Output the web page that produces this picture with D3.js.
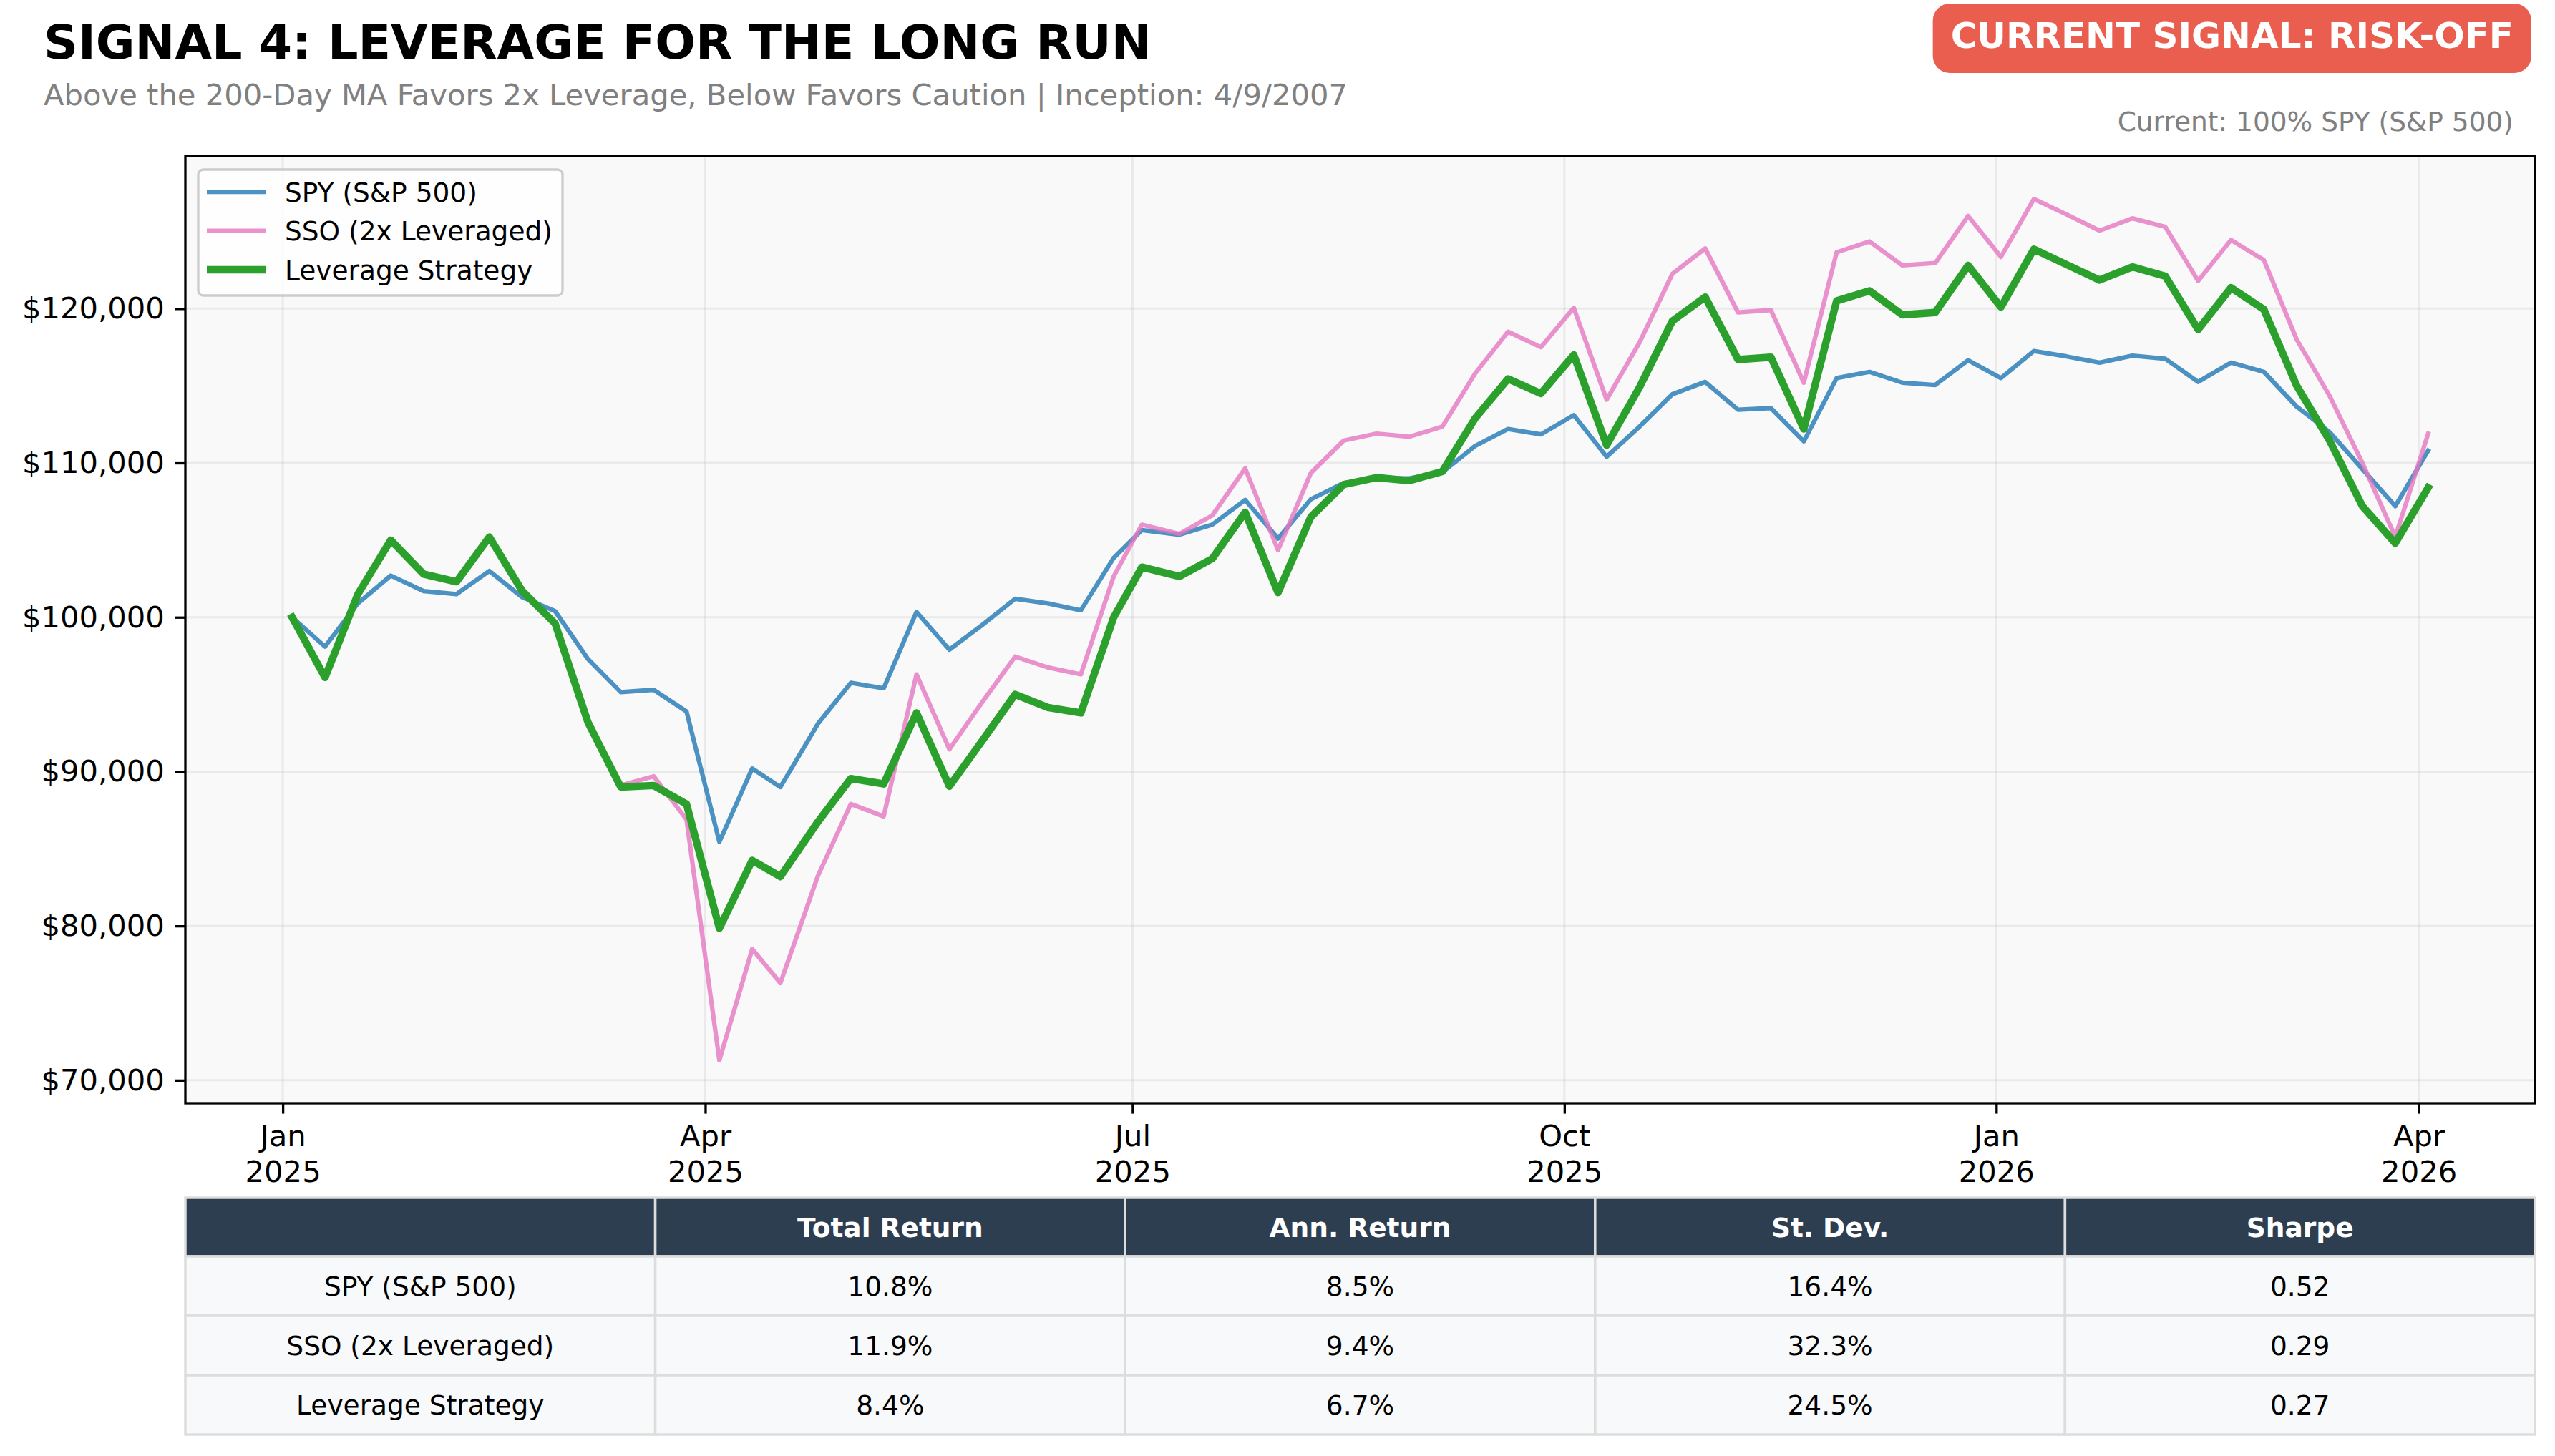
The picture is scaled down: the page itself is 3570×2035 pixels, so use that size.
<!DOCTYPE html>
<html>
<head>
<meta charset="utf-8">
<script src="https://cdn.jsdelivr.net/npm/d3@7"></script>
<style>
    body { margin: 0; background: #ffffff; }
    svg { display: block; font-family: "DejaVu Sans", sans-serif; }
</style>
</head>
<body>
<div id="canvas"></div>
<script>
"use strict"

/* Weekly closes, growth of $100,000 */
let weekDates = [
    "2025-01-03", "2025-01-10", "2025-01-17", "2025-01-24", "2025-01-31", "2025-02-07",
    "2025-02-14", "2025-02-21", "2025-02-28", "2025-03-07", "2025-03-14", "2025-03-21",
    "2025-03-28", "2025-04-04", "2025-04-11", "2025-04-17", "2025-04-25", "2025-05-02",
    "2025-05-09", "2025-05-16", "2025-05-23", "2025-05-30", "2025-06-06", "2025-06-13",
    "2025-06-20", "2025-06-27", "2025-07-03", "2025-07-11", "2025-07-18", "2025-07-25",
    "2025-08-01", "2025-08-08", "2025-08-15", "2025-08-22", "2025-08-29", "2025-09-05",
    "2025-09-12", "2025-09-19", "2025-09-26", "2025-10-03", "2025-10-10", "2025-10-17",
    "2025-10-24", "2025-10-31", "2025-11-07", "2025-11-14", "2025-11-21", "2025-11-28",
    "2025-12-05", "2025-12-12", "2025-12-19", "2025-12-26", "2026-01-02", "2026-01-09",
    "2026-01-16", "2026-01-23", "2026-01-30", "2026-02-06", "2026-02-13", "2026-02-20",
    "2026-02-27", "2026-03-06", "2026-03-13", "2026-03-20", "2026-03-27", "2026-04-03"
];

let spyValues = [
    100000, 98100, 100900, 102700, 101700, 101500, 103000, 101300, 100400, 97300,
    95150, 95300, 93900, 85450, 90200, 89000, 93100, 95750, 95400, 100350,
    97900, 99500, 101200, 100900, 100450, 103850, 105650, 105350, 106000, 107600,
    105100, 107650, 108700, 109000, 109000, 109400, 111100, 112200, 111850, 113100,
    110400, 112350, 114450, 115250, 113450, 113550, 111400, 115500, 115900, 115200,
    115050, 116650, 115500, 117250, 116900, 116500, 116950, 116750, 115250, 116500,
    115900, 113650, 112000, 109600, 107200, 110800
];

let ssoValues = [
    100000, 96100, 101500, 105000, 102800, 102300, 105200, 101700, 99600, 93200,
    89100, 89700, 86900, 71300, 78500, 76300, 83250, 87900, 87100, 96300,
    91450, 94500, 97450, 96750, 96300, 102650, 106000, 105400, 106600, 109650,
    104350, 109350, 111450, 111900, 111700, 112350, 115800, 118500, 117500, 120050,
    114100, 117800, 122250, 123900, 119750, 119900, 115200, 123650, 124350, 122800,
    122950, 126000, 123350, 127100, 126100, 125050, 125850, 125300, 121800, 124450,
    123150, 118000, 114350, 110000, 105200, 111900
];

let strategyValues = [
    100000, 96100, 101500, 105000, 102800, 102300, 105200, 101700, 99600, 93200,
    89000, 89100, 87900, 79850, 84250, 83200, 86750, 89550, 89200, 93800,
    89050, 92000, 95000, 94150, 93800, 100000, 103250, 102650, 103800, 106800,
    101600, 106500, 108600, 109050, 108850, 109450, 112900, 115450, 114500, 117000,
    111150, 114900, 119200, 120750, 116700, 116850, 112200, 120500, 121150, 119600,
    119750, 122800, 120100, 123850, 122850, 121850, 122700, 122100, 118650, 121350,
    119950, 115000, 111450, 107200, 104800, 108400
];

let seriesNames = ["SPY (S&P 500)", "SSO (2x Leveraged)", "Leverage Strategy"];
let yTickValues = [70000, 80000, 90000, 100000, 110000, 120000];

/* Summary table */
let tableColumns = ["", "Total Return", "Ann. Return", "St. Dev.", "Sharpe"];
let totalReturns = ["10.8%", "11.9%", "8.4%"];
let annReturns = ["8.5%", "9.4%", "6.7%"];
let stDevs = ["16.4%", "32.3%", "24.5%"];
let sharpes = ["0.52", "0.29", "0.27"];

let titleText = "SIGNAL 4: LEVERAGE FOR THE LONG RUN";
let subtitleText = "Above the 200-Day MA Favors 2x Leverage, Below Favors Caution | Inception: 4/9/2007";
let signalText = "CURRENT SIGNAL: RISK-OFF";
let currentText = "Current: 100% SPY (S&P 500)";

/* set up the drawing canvas */
let width = 3570;
let height = 2035;

let drawing = d3.select("#canvas")
    .append("svg")
    .attr("width", width)
    .attr("height", height);

let plotLeft = 259;
let plotRight = 3542;
let plotTop = 218;
let plotBottom = 1542;

let dates = weekDates.map(d3.timeParse("%Y-%m-%d"));

// matplotlib style 5% margins on both axes
let t0 = dates[0].getTime();
let t1 = dates[dates.length - 1].getTime();
let tPad = (t1 - t0) * 0.05;
let allValues = spyValues.concat(ssoValues, strategyValues);
let vMin = d3.min(allValues);
let vMax = d3.max(allValues);
let vPad = (vMax - vMin) * 0.05;

let x = d3.scaleTime()
    .domain([new Date(t0 - tPad), new Date(t1 + tPad)])
    .range([plotLeft, plotRight]);

let y = d3.scaleLinear()
    .domain([vMin - vPad, vMax + vPad])
    .range([plotBottom, plotTop]);

let xTicks = x.ticks(d3.timeMonth.every(3));

/* plot background */
drawing.append("rect")
    .attr("x", plotLeft)
    .attr("y", plotTop)
    .attr("width", plotRight - plotLeft)
    .attr("height", plotBottom - plotTop)
    .attr("fill", "#f9f9f9");

/* grid */
let grid = drawing.append("g");
grid.selectAll(".hgrid")
    .data(yTickValues)
    .enter()
    .append("line")
    .attr("x1", plotLeft)
    .attr("x2", plotRight)
    .attr("y1", d => y(d))
    .attr("y2", d => y(d))
    .attr("stroke", "#b0b0b0")
    .attr("stroke-opacity", 0.2)
    .attr("stroke-width", 3);

grid.selectAll(".vgrid")
    .data(xTicks)
    .enter()
    .append("line")
    .attr("x1", d => x(d))
    .attr("x2", d => x(d))
    .attr("y1", plotTop)
    .attr("y2", plotBottom)
    .attr("stroke", "#b0b0b0")
    .attr("stroke-opacity", 0.2)
    .attr("stroke-width", 3);

/* lines - SPY first, strategy drawn on top */
let seriesValues = [spyValues, ssoValues, strategyValues];
let seriesColors = ["#1f77b4", "#e377c2", "#2ca02c"];
let seriesOpacity = [0.8, 0.8, 1];
let seriesWidths = [6.25, 6.25, 10.4];

let line = d3.line()
    .x((d, i) => x(dates[i]))
    .y(d => y(d));

let lineLayer = drawing.append("g");
seriesValues.forEach(function (vals, k) {
    lineLayer.append("path")
        .attr("d", line(vals))
        .attr("fill", "none")
        .attr("stroke", seriesColors[k])
        .attr("stroke-opacity", seriesOpacity[k])
        .attr("stroke-width", seriesWidths[k])
        .attr("stroke-linejoin", "round")
        .attr("stroke-linecap", "square");
});

/* frame */
drawing.append("rect")
    .attr("x", plotLeft)
    .attr("y", plotTop)
    .attr("width", plotRight - plotLeft)
    .attr("height", plotBottom - plotTop)
    .attr("fill", "none")
    .attr("stroke", "#000000")
    .attr("stroke-width", 3.3);

/* axes */
let yAxis = drawing.append("g")
    .attr("transform", "translate(" + plotLeft + ",0)")
    .call(d3.axisLeft(y)
        .tickValues(yTickValues)
        .tickFormat(d => "$" + d3.format(",")(d))
        .tickSize(14.6)
        .tickPadding(14.6));

let xAxis = drawing.append("g")
    .attr("transform", "translate(0," + plotBottom + ")")
    .call(d3.axisBottom(x)
        .tickValues(xTicks)
        .tickFormat("")
        .tickSize(14.6));

drawing.selectAll(".domain").remove();
drawing.selectAll(".tick line")
    .attr("stroke", "#000000")
    .attr("stroke-width", 3.3);
yAxis.selectAll("text")
    .attr("font-size", 41.7)
    .attr("fill", "#000000")
    .attr("font-family", "DejaVu Sans");

let monthFmt = d3.timeFormat("%b");
let yearFmt = d3.timeFormat("%Y");
xAxis.selectAll(".tick").each(function (d) {
    let label = d3.select(this).append("text")
        .attr("text-anchor", "middle")
        .attr("font-size", 41.7)
        .attr("font-family", "DejaVu Sans")
        .attr("fill", "#000000");
    label.append("tspan").attr("x", 0).attr("y", 60).text(monthFmt(d));
    label.append("tspan").attr("x", 0).attr("y", 110).text(yearFmt(d));
});

/* legend */
let legend = drawing.append("g");
legend.append("rect")
    .attr("x", 277)
    .attr("y", 237)
    .attr("width", 509)
    .attr("height", 176)
    .attr("rx", 7)
    .attr("fill", "#ffffff")
    .attr("fill-opacity", 0.8)
    .attr("stroke", "#cccccc")
    .attr("stroke-width", 3.3);

seriesNames.forEach(function (name, k) {
    let ly = 268 + k * 54.5;
    legend.append("line")
        .attr("x1", 289)
        .attr("x2", 371)
        .attr("y1", ly)
        .attr("y2", ly)
        .attr("stroke", seriesColors[k])
        .attr("stroke-opacity", seriesOpacity[k])
        .attr("stroke-width", seriesWidths[k]);
    legend.append("text")
        .attr("x", 398)
        .attr("y", ly)
        .attr("dy", "0.36em")
        .attr("font-size", 37.5)
        .attr("fill", "#000000")
        .text(name);
});

/* titles */
drawing.append("text")
    .attr("x", 61)
    .attr("y", 82)
    .attr("font-size", 66.7)
    .attr("font-weight", "bold")
    .attr("fill", "#000000")
    .text(titleText);

drawing.append("text")
    .attr("x", 61)
    .attr("y", 147)
    .attr("font-size", 41.7)
    .attr("fill", "#808080")
    .text(subtitleText);

/* signal badge, box sized round the text */
let badge = drawing.append("g");
let badgeRect = badge.append("rect");
let badgeLabel = badge.append("text")
    .attr("x", 3512)
    .attr("y", 67)
    .attr("text-anchor", "end")
    .attr("font-size", 50)
    .attr("font-weight", "bold")
    .attr("fill", "#ffffff")
    .text(signalText);
let bb = badgeLabel.node().getBBox();
badgeRect
    .attr("x", bb.x - 25)
    .attr("y", 5)
    .attr("width", bb.width + 50)
    .attr("height", 97)
    .attr("rx", 24)
    .attr("fill", "#e74c3c")
    .attr("fill-opacity", 0.9);

drawing.append("text")
    .attr("x", 3512)
    .attr("y", 183)
    .attr("text-anchor", "end")
    .attr("font-size", 37.5)
    .attr("fill", "#808080")
    .text(currentText);

/* summary table */
let tableTop = 1674;
let headerHeight = 82;
let rowHeight = 83;
let colWidth = (plotRight - plotLeft) / tableColumns.length;

let tableRows = seriesNames.map((name, k) => [name, totalReturns[k], annReturns[k], stDevs[k], sharpes[k]]);

let table = drawing.append("g");
tableColumns.forEach(function (head, c) {
    table.append("rect")
        .attr("x", plotLeft + c * colWidth)
        .attr("y", tableTop)
        .attr("width", colWidth)
        .attr("height", headerHeight)
        .attr("fill", "#2c3e50")
        .attr("stroke", "#dddddd")
        .attr("stroke-width", 3.5);
    table.append("text")
        .attr("x", plotLeft + (c + 0.5) * colWidth)
        .attr("y", tableTop + headerHeight / 2)
        .attr("dy", "0.36em")
        .attr("text-anchor", "middle")
        .attr("font-size", 37.5)
        .attr("font-weight", "bold")
        .attr("fill", "#ffffff")
        .text(head);
});

tableRows.forEach(function (row, r) {
    let ry = tableTop + headerHeight + r * rowHeight;
    row.forEach(function (cell, c) {
        table.append("rect")
            .attr("x", plotLeft + c * colWidth)
            .attr("y", ry)
            .attr("width", colWidth)
            .attr("height", rowHeight)
            .attr("fill", "#f8f9fa")
            .attr("stroke", "#dddddd")
            .attr("stroke-width", 3.5);
        table.append("text")
            .attr("x", plotLeft + (c + 0.5) * colWidth)
            .attr("y", ry + rowHeight / 2)
            .attr("dy", "0.36em")
            .attr("text-anchor", "middle")
            .attr("font-size", 37.5)
            .attr("fill", "#000000")
            .text(cell);
    });
});
</script>
</body>
</html>
